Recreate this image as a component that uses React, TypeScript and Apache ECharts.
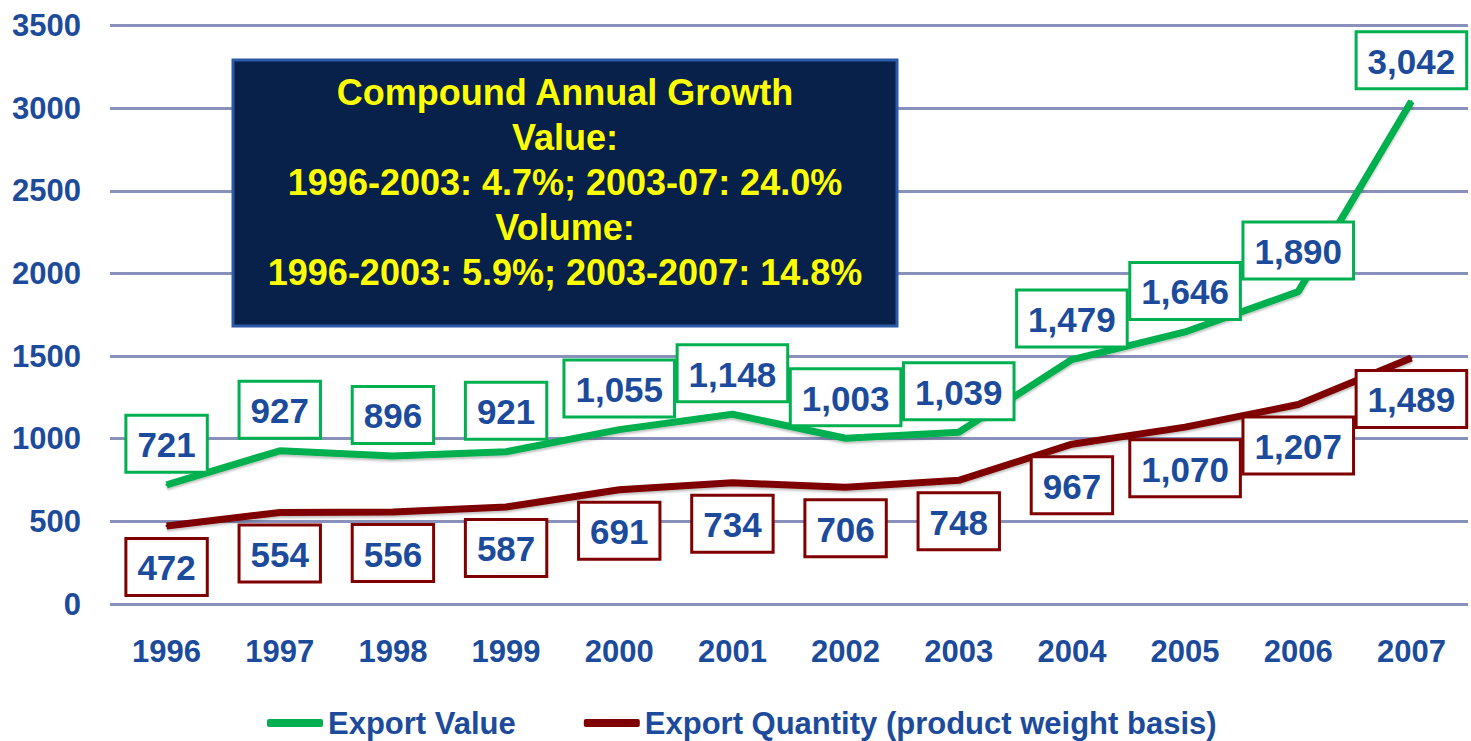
import React, { useEffect, useRef } from "react";
import * as echarts from "echarts";

const years = ["1996", "1997", "1998", "1999", "2000", "2001", "2002", "2003", "2004", "2005", "2006", "2007"];
const exportValue = [721, 927, 896, 921, 1055, 1148, 1003, 1039, 1479, 1646, 1890, 3042];
const exportQuantity = [472, 554, 556, 587, 691, 734, 706, 748, 967, 1070, 1207, 1489];
const seriesNames = ["Export Value", "Export Quantity (product weight basis)"];
const annotationLines = [
  "Compound Annual Growth",
  "Value:",
  "1996-2003: 4.7%; 2003-07: 24.0%",
  "Volume:",
  "1996-2003: 5.9%; 2003-2007: 14.8%",
];

const FONT = "'Liberation Sans', Arial, sans-serif";
const BLUE = "#1c4b9c";
const GREEN = "#00b050";
const RED = "#7f0000";

const fmt = (p: any) => Number(p.value).toLocaleString("en-US");

const labelStyle = (border: string, position: "top" | "bottom") => ({
  show: true,
  position,
  distance: 13,
  formatter: fmt,
  color: BLUE,
  fontSize: 35,
  fontWeight: "bold",
  fontFamily: FONT,
  backgroundColor: "#ffffff",
  borderColor: border,
  borderWidth: 3,
  padding: [8, 10, 6, 10],
  lineHeight: 40,
});

export default function App() {
  const ref = useRef<HTMLDivElement>(null);
  useEffect(() => {
    document.body.style.margin = "0";
    if (!ref.current) return;
    const chart = echarts.init(ref.current, null, { renderer: "svg" });
    chart.setOption({
      animation: false,
      backgroundColor: "#ffffff",
      grid: { left: 110, right: 3, top: 25.5, bottom: 137 },
      xAxis: {
        type: "category",
        data: years,
        boundaryGap: true,
        axisLine: { show: false },
        axisTick: { show: false },
        axisLabel: { color: BLUE, fontSize: 31, fontWeight: "bold", fontFamily: FONT, margin: 32 },
      },
      yAxis: {
        type: "value",
        min: 0,
        max: 3500,
        interval: 500,
        axisLine: { show: false },
        axisTick: { show: false },
        axisLabel: {
          color: BLUE,
          fontSize: 31,
          fontWeight: "bold",
          fontFamily: FONT,
          margin: 29,
          formatter: (v: number) => String(v),
        },
        splitLine: { lineStyle: { color: "#8991ba", width: 3 } },
      },
      legend: {
        data: seriesNames,
        left: 262,
        top: 701,
        icon: "roundRect",
        itemWidth: 56,
        itemHeight: 8,
        itemGap: 68,
        textStyle: { color: BLUE, fontSize: 31, lineHeight: 34, fontWeight: "bold", fontFamily: FONT },
      },
      series: [
        {
          name: seriesNames[1],
          type: "line",
          data: exportQuantity,
          symbol: "circle",
          symbolSize: 2,
          showSymbol: true,
          itemStyle: { color: RED },
          lineStyle: { color: RED, width: 7, shadowColor: "rgba(0,0,0,0.25)", shadowOffsetY: 2, shadowBlur: 2 },
          label: labelStyle(RED, "bottom"),
          z: 2,
        },
        {
          name: seriesNames[0],
          type: "line",
          data: exportValue,
          symbol: "circle",
          symbolSize: 2,
          showSymbol: true,
          itemStyle: { color: GREEN },
          lineStyle: { color: GREEN, width: 7, shadowColor: "rgba(0,0,0,0.25)", shadowOffsetY: 2, shadowBlur: 2 },
          label: labelStyle(GREEN, "top"),
          z: 3,
        },
      ],
      graphic: [
        {
          type: "rect",
          z: 100,
          zlevel: 0,
          shape: { x: 233, y: 60, width: 664, height: 266 },
          style: { fill: "#08214b", stroke: "#2b5aa8", lineWidth: 3 },
        },
        {
          type: "text",
          z: 101,
          zlevel: 0,
          x: 565,
          y: 182,
          style: {
            text: annotationLines.join("\n"),
            fill: "#ffff00",
            fontSize: 36,
            fontWeight: "bold",
            fontFamily: FONT,
            lineHeight: 45,
            align: "center",
            verticalAlign: "middle",
          },
        },
      ],
    });
    return () => chart.dispose();
  }, []);
  return <div ref={ref} style={{ width: 1471, height: 741 }} />;
}
